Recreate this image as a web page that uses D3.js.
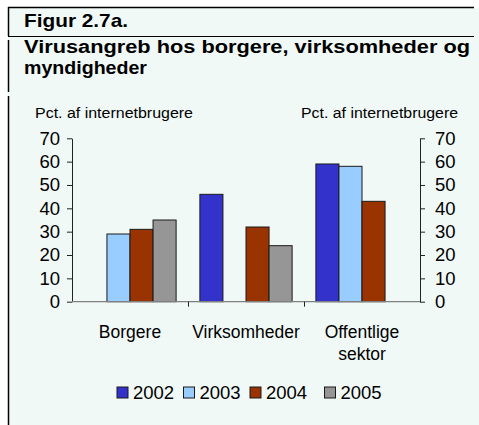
<!DOCTYPE html>
<html><head><meta charset="utf-8">
<script src="https://cdn.jsdelivr.net/npm/d3@7"></script>
<style>body{margin:0;background:#fff}svg{display:block}text{font-family:"Liberation Sans",Arial,sans-serif;fill:#000}</style>
</head><body>
<svg id="c" width="479" height="425"></svg>
<script>
const categories = ["Borgere", "Virksomheder", "Offentlige sektor"];
const years = ["2002", "2003", "2004", "2005"];
const values = {
  "2002": [null, 46, 59],
  "2003": [29, null, 58],
  "2004": [31, 32, 43],
  "2005": [35, 24, null]
};
const colors = ["#3333cc", "#99ccff", "#993300", "#969696"];
const yTicks = [0, 10, 20, 30, 40, 50, 60, 70];

const svg = d3.select("#c");
const bg = "#f1f9f7";
svg.append("rect").attr("x", 8).attr("y", 8).attr("width", 471).attr("height", 417).attr("fill", bg);
// frame lines
svg.append("line").attr("x1", 8).attr("x2", 474).attr("y1", 7.5).attr("y2", 7.5).attr("stroke", "#000").attr("stroke-width", 1.5);
svg.append("line").attr("x1", 8).attr("x2", 474).attr("y1", 36.5).attr("y2", 36.5).attr("stroke", "#000").attr("stroke-width", 1.2);
[[7, 36], [40, 92], [96, 425]].forEach(s =>
  svg.append("line").attr("x1", 8.5).attr("x2", 8.5).attr("y1", s[0]).attr("y2", s[1]).attr("stroke", "#000").attr("stroke-width", 1.5));

const title = [
  {t: "Figur 2.7a.", y: 27, w: 104, fs: 19},
  {t: "Virusangreb hos borgere, virksomheder og", y: 53, w: 446, fs: 17.5},
  {t: "myndigheder", y: 74, w: 123, fs: 17.5}
];
title.forEach(d => svg.append("text").attr("x", 24).attr("y", d.y).attr("font-weight", "bold")
  .attr("font-size", d.fs).attr("textLength", d.w).attr("lengthAdjust", "spacingAndGlyphs").text(d.t));

const x0 = 72, x1 = 420, y0 = 301.7, y1 = 138.3;
const y = d3.scaleLinear().domain([0, 70]).range([y0, y1]);
const x = d3.scaleBand().domain(categories).range([x0, x1]).padding(0);
const groupW = x.bandwidth() * 0.795;
const xi = d3.scaleBand().domain(years).range([0, groupW]).padding(0);

// axis titles
svg.append("text").attr("x", 35).attr("y", 118).attr("font-size", 15.5).attr("textLength", 158).attr("lengthAdjust", "spacingAndGlyphs").text("Pct. af internetbrugere");
svg.append("text").attr("x", 301).attr("y", 118).attr("font-size", 15.5).attr("textLength", 157).attr("lengthAdjust", "spacingAndGlyphs").text("Pct. af internetbrugere");

// bars
years.forEach((yr, j) => {
  svg.append("g").selectAll("rect").data(values[yr].map((v, i) => ({v, c: categories[i]})).filter(d => d.v != null))
    .join("rect")
    .attr("x", d => x(d.c) + (x.bandwidth() - groupW) / 2 + xi(yr))
    .attr("width", xi.bandwidth())
    .attr("y", d => y(d.v))
    .attr("height", d => y0 - y(d.v))
    .attr("fill", colors[j])
    .attr("stroke", "#1a1a1a").attr("stroke-width", 1);
});

// y axes
const ga = svg.append("g").attr("transform", `translate(${x0},0)`)
  .call(d3.axisLeft(y).tickValues(yTicks).tickSize(5).tickPadding(7).tickSizeOuter(0));
const gb = svg.append("g").attr("transform", `translate(${x1},0)`)
  .call(d3.axisRight(y).tickValues(yTicks).tickSize(5).tickPadding(10).tickSizeOuter(0));
[ga, gb].forEach(g => {
  g.selectAll("text").attr("font-size", 18.5).attr("font-family", "Liberation Sans, Arial, sans-serif").attr("fill", "#000");
  g.selectAll("line,path").attr("stroke", "#222");
});

// x axis
svg.append("line").attr("x1", x0).attr("x2", x1).attr("y1", y0).attr("y2", y0).attr("stroke", "#808080").attr("stroke-width", 1.3);
svg.append("g").selectAll("line").data(categories.slice(1)).join("line")
  .attr("x1", d => Math.round(x(d)) + 0.5).attr("x2", d => Math.round(x(d)) + 0.5)
  .attr("y1", y0).attr("y2", y0 + 5).attr("stroke", "#222");

// category labels
const cl = svg.append("g").selectAll("text").data(categories).join("text")
  .attr("x", d => x(d) + x.bandwidth() / 2).attr("y", 337.5)
  .attr("text-anchor", "middle").attr("font-size", 17.5);
cl.each(function(d) {
  const parts = d === "Offentlige sektor" ? ["Offentlige", "sektor"] : [d];
  const t = d3.select(this);
  parts.forEach((p, k) => t.append("tspan").attr("x", x(d) + x.bandwidth() / 2).attr("dy", k ? 22 : 0).text(p));
});

// legend
const legOff = [117, 183.5, 250, 324.5];
const lg = svg.append("g").selectAll("g").data(years).join("g")
  .attr("transform", (d, i) => `translate(${legOff[i]},387)`);
lg.append("rect").attr("width", 11).attr("height", 11).attr("fill", (d, i) => colors[i]).attr("stroke", "#1a1a1a");
lg.append("text").attr("x", 16).attr("y", 12.3).attr("font-size", 18.5).text(d => d);
</script>
</body></html>
